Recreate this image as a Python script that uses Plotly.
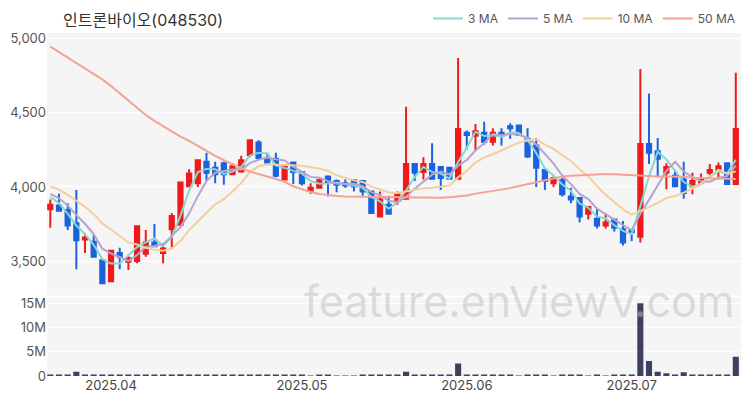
import plotly.graph_objects as go
from plotly.subplots import make_subplots

dates = [
    "2025-03-21", "2025-03-24", "2025-03-25", "2025-03-26", "2025-03-27", "2025-03-28", "2025-03-31",
    "2025-04-01", "2025-04-02", "2025-04-03", "2025-04-04", "2025-04-07", "2025-04-08", "2025-04-09",
    "2025-04-10", "2025-04-11", "2025-04-14", "2025-04-15", "2025-04-16", "2025-04-17", "2025-04-18",
    "2025-04-21", "2025-04-22", "2025-04-23", "2025-04-24", "2025-04-25", "2025-04-28", "2025-04-29",
    "2025-04-30",
    "2025-05-02", "2025-05-07", "2025-05-08", "2025-05-09", "2025-05-12", "2025-05-13", "2025-05-14",
    "2025-05-15", "2025-05-16", "2025-05-19", "2025-05-20", "2025-05-21", "2025-05-22", "2025-05-23",
    "2025-05-26", "2025-05-27", "2025-05-28", "2025-05-29", "2025-05-30",
    "2025-06-02", "2025-06-04", "2025-06-05", "2025-06-09", "2025-06-10", "2025-06-11", "2025-06-12",
    "2025-06-13", "2025-06-16", "2025-06-17", "2025-06-18", "2025-06-19", "2025-06-20", "2025-06-23",
    "2025-06-24", "2025-06-25", "2025-06-26", "2025-06-27", "2025-06-30",
    "2025-07-01", "2025-07-02", "2025-07-03", "2025-07-04", "2025-07-07", "2025-07-08", "2025-07-09",
    "2025-07-10", "2025-07-11", "2025-07-14", "2025-07-15", "2025-07-16", "2025-07-17",
]

opens = [3850, 3875, 3845, 3755, 3645, 3630, 3505, 3365, 3555, 3495,
         3500, 3550, 3625, 3555, 3715, 3745, 4005, 4025, 4170, 4130,
         4160, 4085, 4105, 4215, 4300, 4195, 4190, 4050, 4165, 4100,
         3975, 3995, 4070, 4040, 4025, 4045, 4040, 3970, 3800, 3880,
         3905, 3920, 4155, 4100, 4155, 4135, 4130, 4055, 4365, 4345,
         4365, 4305, 4365, 4410, 4415, 4325, 4280, 4115, 4025, 4045,
         3935, 3925, 3820, 3785, 3740, 3780, 3715, 3710, 3665, 4290,
         4240, 4095, 4075, 4050, 4005, 4030, 4095, 4115, 4160, 4020]
highs = [3915, 3955, 3890, 3980, 3690, 3680, 3505, 3570, 3590, 3535,
         3740, 3710, 3750, 3620, 3825, 4030, 4120, 4180, 4230, 4170,
         4170, 4160, 4210, 4320, 4315, 4230, 4230, 4145, 4165, 4105,
         4025, 4060, 4070, 4050, 4050, 4050, 4045, 3970, 3970, 3940,
         3970, 4540, 4155, 4200, 4295, 4135, 4130, 4870, 4380, 4425,
         4440, 4395, 4395, 4430, 4420, 4395, 4330, 4130, 4070, 4060,
         3995, 3925, 3865, 3860, 3825, 3780, 3770, 3710, 4795, 4630,
         4330, 4160, 4110, 4170, 4095, 4090, 4155, 4165, 4160, 4770]
lows = [3725, 3840, 3710, 3445, 3555, 3530, 3350, 3365, 3445, 3440,
        3485, 3530, 3600, 3485, 3590, 3745, 4005, 4000, 4040, 4025,
        4015, 4085, 4095, 4200, 4190, 4150, 4065, 4050, 4020, 4010,
        3955, 3995, 3935, 3965, 3995, 3970, 3940, 3825, 3800, 3815,
        3880, 3920, 4040, 4050, 4055, 3980, 4055, 4055, 4255, 4250,
        4285, 4280, 4280, 4325, 4350, 4195, 4000, 3980, 4000, 3935,
        3890, 3760, 3780, 3720, 3720, 3700, 3605, 3635, 3625, 4155,
        4065, 3985, 4005, 3920, 3950, 4020, 4060, 4050, 4020, 4020]
closes = [3880, 3840, 3740, 3640, 3660, 3530, 3350, 3570, 3530, 3520,
          3735, 3625, 3600, 3585, 3805, 4030, 4090, 4180, 4095, 4085,
          4085, 4140, 4180, 4315, 4195, 4165, 4075, 4145, 4100, 4025,
          3995, 4045, 4030, 4015, 4010, 4005, 3970, 3825, 3915, 3820,
          3955, 4155, 4095, 4155, 4055, 4060, 4055, 4390, 4350, 4375,
          4305, 4365, 4345, 4395, 4350, 4205, 4130, 4040, 4060, 3950,
          3915, 3800, 3865, 3740, 3760, 3725, 3625, 3695, 4290, 4230,
          4190, 4135, 4005, 3960, 4040, 4055, 4115, 4140, 4020, 4390]
# closes before the visible window (only used to start the moving averages)
prev_closes = [4060, 4090, 4060, 4040, 4020, 3990, 3980, 3970, 3950]

ma50 = [4946, 4910, 4872, 4836, 4800, 4765, 4725, 4680, 4630, 4580,
        4530, 4485, 4445, 4408, 4372, 4340, 4310, 4275, 4242, 4210,
        4180, 4152, 4126, 4104, 4088, 4070, 4054, 4034, 4005, 3985,
        3966, 3953, 3945, 3939, 3936, 3935, 3934, 3933, 3931, 3929,
        3928, 3927, 3926, 3926, 3926, 3927, 3930, 3935, 3942, 3955,
        3963, 3972, 3982, 3993, 4006, 4020, 4033, 4046, 4060, 4070,
        4076, 4080, 4083, 4085, 4087, 4086, 4083, 4078, 4072, 4070,
        4070, 4071, 4071, 4068, 4062, 4060, 4058, 4057, 4055, 4054]

volumes_m = [0.25, 0.2, 0.3, 0.9, 0.2, 0.15, 0.3, 0.25, 0.15, 0.1,
             0.3, 0.2, 0.15, 0.1, 0.2, 0.35, 0.25, 0.3, 0.2, 0.15,
             0.12, 0.1, 0.15, 0.25, 0.2, 0.1, 0.15, 0.1, 0.1, 0.12,
             0.08, 0.1, 0.1, 0.08, 0.07, 0.08, 0.1, 0.2, 0.2, 0.15,
             0.12, 0.9, 0.3, 0.2, 0.25, 0.15, 0.1, 2.6, 0.3, 0.2,
             0.2, 0.15, 0.1, 0.1, 0.08, 0.15, 0.25, 0.15, 0.08, 0.12,
             0.1, 0.15, 0.08, 0.1, 0.08, 0.1, 0.15, 0.1, 15.1, 3.1,
             0.9, 0.55, 0.3, 0.8, 0.3, 0.2, 0.25, 0.2, 0.3, 4.0]

tick_dates = ["2025-04-01", "2025-05-02", "2025-06-02", "2025-07-01"]
tick_labels = ["2025.04", "2025.05", "2025.06", "2025.07"]
price_ticks = [3500, 4000, 4500, 5000]
vol_ticks = [0, 5e6, 10e6, 15e6]
vol_tick_labels = ["0", "5M", "10M", "15M"]

title_text = "인트론바이오(048530)"
watermark = "feature.enViewV.com"


def moving_avg(series, n, k):
    window = series[k - n + 1:k + 1]
    return sum(window) / n


full = prev_closes + closes
off = len(prev_closes)
ma3 = [moving_avg(full, 3, off + i) for i in range(len(closes))]
ma5 = [moving_avg(full, 5, off + i) for i in range(len(closes))]
ma10 = [moving_avg(full, 10, off + i) for i in range(len(closes))]
volumes = [v * 1e6 for v in volumes_m]

UP = "#f01a1a"
DOWN = "#1a62de"
FONT = "Inter, 'Noto Sans CJK KR', sans-serif"

fig = make_subplots(rows=2, cols=1, shared_xaxes=True, vertical_spacing=0.006,
                    row_heights=[0.77, 0.23])

fig.add_trace(go.Candlestick(
    x=dates, open=opens, high=highs, low=lows, close=closes,
    increasing=dict(line=dict(color=UP, width=2), fillcolor=UP),
    decreasing=dict(line=dict(color=DOWN, width=2), fillcolor=DOWN),
    whiskerwidth=0, showlegend=False, name="price"), row=1, col=1)

ma_specs = [("3 MA", ma3, "#86d8cf"), ("5 MA", ma5, "#b6a3cf"),
            ("10 MA", ma10, "#f3cf9c"), ("50 MA", ma50, "#f5a394")]
for name, vals, col in ma_specs:
    fig.add_trace(go.Scatter(x=dates, y=vals, mode="lines", name=name,
                             line=dict(color=col, width=2)), row=1, col=1)

fig.add_trace(go.Bar(x=dates, y=volumes, marker=dict(color="#3d405f", line=dict(width=0)),
                     width=0.7, showlegend=False, name="volume"), row=2, col=1)

fig.update_xaxes(type="category", range=[-0.38, 79.6], showgrid=False,
                 tickmode="array", tickvals=tick_dates, ticktext=tick_labels,
                 showline=False, zeroline=False, ticks="",
                 tickfont=dict(size=13, color="#444", family=FONT),
                 rangeslider=dict(visible=False))
fig.update_xaxes(showticklabels=False, row=1, col=1)

fig.update_yaxes(range=[3268, 5038], tickmode="array", tickvals=price_ticks,
                 tickformat=",", gridcolor="#ffffff", gridwidth=1, zeroline=False,
                 tickfont=dict(size=13, color="#555", family=FONT), row=1, col=1)
fig.update_yaxes(range=[0, 16.25e6], tickmode="array", tickvals=vol_ticks,
                 ticktext=vol_tick_labels, gridcolor="#ffffff", gridwidth=1,
                 zeroline=False, tickfont=dict(size=13, color="#555", family=FONT),
                 row=2, col=1)

fig.add_annotation(text=watermark, xref="paper", yref="paper", x=0.681, y=0.22,
                   xanchor="center", yanchor="middle", showarrow=False,
                   font=dict(size=43, color="rgba(190,190,190,0.5)", family=FONT))

fig.update_layout(
    width=750, height=400,
    margin=dict(l=47, r=9, t=33, b=24, autoexpand=False),
    paper_bgcolor="#ffffff", plot_bgcolor="#f5f5f5",
    title=dict(text=title_text, x=0.084, xanchor="left", y=0.95, yanchor="middle",
               font=dict(size=16, color="#333", family=FONT)),
    legend=dict(orientation="h", x=1.0, xanchor="right", y=1.0, yanchor="bottom",
                font=dict(size=12, color="#555", family=FONT), bgcolor="rgba(0,0,0,0)",
                itemwidth=30),
    showlegend=True,
    bargap=0.3,
)

fig.write_html("out.html", config={"displayModeBar": False},
               post_script="document.body.style.margin='0';")
